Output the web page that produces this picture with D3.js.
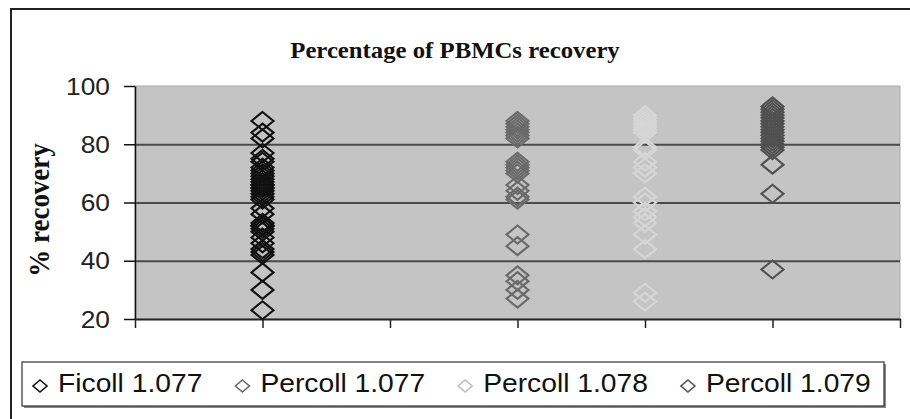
<!DOCTYPE html>
<html>
<head>
<meta charset="utf-8">
<script src="https://cdn.jsdelivr.net/npm/d3@7"></script>
<style>
  body { margin: 0; background: #fff; }
  svg { display: block; }
</style>
</head>
<body>
<svg></svg>
<script>
var width = 910,
    height = 419;

// data
var seriesNames = ["Ficoll 1.077", "Percoll 1.077", "Percoll 1.078", "Percoll 1.079"];
var seriesX = [1, 3, 4, 5];
var ficoll1077 = [88, 84, 82, 77, 75, 74, 72, 71, 70, 69, 68, 67, 66, 66, 65, 65, 64, 63, 62, 61,
                  58, 56, 53, 52, 52, 52, 51, 50, 48, 46, 44, 43, 42, 36, 30, 23];
var percoll1077 = [88, 87, 86, 85, 84, 83, 82, 74, 73, 72, 71, 70, 66, 64, 62, 61, 49, 45, 35, 33, 30, 27];
var percoll1078 = [90, 89, 88, 87, 86, 85, 84, 79, 78, 74, 72, 70, 62, 60, 57, 55, 53, 49, 44, 29, 26];
var percoll1079 = [93, 92, 91, 90, 89, 88, 87, 86, 85, 84, 83, 82, 81, 80, 79, 78, 73, 63, 37];
var yTicks = [20, 40, 60, 80, 100];
var xTicks = [0, 1, 2, 3, 4, 5, 6];

var seriesValues = [ficoll1077, percoll1077, percoll1078, percoll1079];
var colors = ["#111111", "#6a6a6a", "#d6d6d6", "#505050"];
var legendColors = ["#111111", "#6a6a6a", "#bdbdbd", "#505050"];

var svg = d3.select("svg")
    .attr("width", width)
    .attr("height", height);

var plot = {left: 135, right: 900, top: 86, bottom: 319};

var x = d3.scaleLinear().domain([0, 6]).range([plot.left, plot.right]);
var y = d3.scaleLinear().domain([20, 100]).range([plot.bottom, plot.top]);

// outer frame (only top and left edges are in view)
svg.append("path")
    .attr("d", "M11," + height + "V9H" + width)
    .attr("fill", "none")
    .attr("stroke", "#222")
    .attr("stroke-width", 2);

svg.append("text")
    .attr("transform", "translate(455,58) scale(1.1,1)")
    .attr("text-anchor", "middle")
    .attr("font-family", "'Liberation Serif', 'Times New Roman', serif")
    .attr("font-weight", "bold")
    .attr("font-size", 22.5)
    .attr("fill", "#111")
    .text("Percentage of PBMCs recovery");

svg.append("text")
    .attr("transform", "translate(49,210) rotate(-90) scale(1,1.12)")
    .attr("text-anchor", "middle")
    .attr("font-family", "'Liberation Serif', 'Times New Roman', serif")
    .attr("font-weight", "bold")
    .attr("font-size", 27)
    .attr("fill", "#111")
    .text("% recovery");

// plot area
svg.append("rect")
    .attr("x", plot.left)
    .attr("y", plot.top)
    .attr("width", plot.right - plot.left)
    .attr("height", plot.bottom - plot.top)
    .attr("fill", "#c4c4c4")
    .attr("stroke", "#a9a9a9")
    .attr("stroke-width", 1);

// gridlines
svg.append("g")
    .attr("transform", "translate(" + plot.left + ",0)")
    .call(d3.axisLeft(y).tickValues([40, 60, 80]).tickSize(-(plot.right - plot.left)).tickFormat(""))
    .call(function(g) { g.select(".domain").remove(); })
    .selectAll("line")
    .attr("stroke", "#4a4a4a")
    .attr("stroke-width", 2);

// y axis
var yAxis = svg.append("g")
    .attr("transform", "translate(" + plot.left + ",0)")
    .call(d3.axisLeft(y).tickValues(yTicks).tickSize(11).tickPadding(0).tickSizeOuter(0));
yAxis.select(".domain").attr("stroke", "#111").attr("stroke-width", 1.5);
yAxis.selectAll(".tick line").attr("stroke", "#111").attr("stroke-width", 1.5);
yAxis.selectAll(".tick text").remove();
yAxis.selectAll(".tick").append("text")
    .attr("transform", "translate(-25,8) scale(1.12,1)")
    .attr("text-anchor", "end")
    .attr("font-family", "'Liberation Sans', Arial, sans-serif")
    .attr("font-size", 23.5)
    .attr("fill", "#222")
    .text(function(d) { return d; });

// x axis
var xAxis = svg.append("g")
    .attr("transform", "translate(0," + plot.bottom + ")")
    .call(d3.axisBottom(x).tickValues(xTicks).tickSize(9).tickSizeOuter(0).tickFormat(""));
xAxis.select(".domain").attr("stroke", "#222").attr("stroke-width", 2);
xAxis.selectAll(".tick line").attr("stroke", "#222").attr("stroke-width", 1.5);

// hollow diamond markers
function diamond(w, h) {
    return "M0," + (-h) + "L" + w + ",0L0," + h + "L" + (-w) + ",0Z";
}

seriesValues.forEach(function(values, i) {
    svg.append("g")
        .selectAll("path")
        .data(values)
        .enter()
        .append("path")
        .attr("transform", function(d) { return "translate(" + x(seriesX[i]) + "," + y(d) + ")"; })
        .attr("d", diamond(11, 9))
        .attr("fill", "none")
        .attr("stroke", colors[i])
        .attr("stroke-width", 2.1);
});

// legend
var legend = svg.append("g");
legend.append("rect")
    .attr("x", 24).attr("y", 364)
    .attr("width", 862).attr("height", 44)
    .attr("fill", "#888");
legend.append("rect")
    .attr("x", 22).attr("y", 362)
    .attr("width", 862).attr("height", 44)
    .attr("fill", "#fff")
    .attr("stroke", "#333")
    .attr("stroke-width", 1.2);

var cursor = 40;
seriesNames.forEach(function(name, i) {
    var item = legend.append("g").attr("transform", "translate(" + cursor + ",386)");
    item.append("path")
        .attr("d", diamond(7, 6))
        .attr("fill", "none")
        .attr("stroke", legendColors[i])
        .attr("stroke-width", 1.6);
    var t = item.append("text")
        .attr("transform", "translate(18,6) scale(1.13,1)")
        .attr("font-family", "'Liberation Sans', Arial, sans-serif")
        .attr("font-size", 25)
        .attr("fill", "#111")
        .text(name);
    cursor += 18 + t.node().getComputedTextLength() * 1.13 + 40;
});
</script>
</body>
</html>
